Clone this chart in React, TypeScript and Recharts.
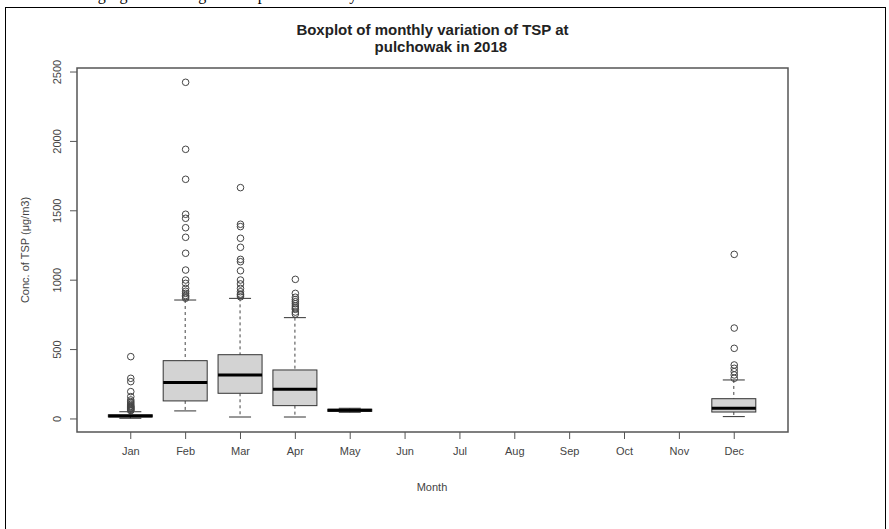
import { Bar, ComposedChart, ReferenceArea, Scatter, XAxis, YAxis } from "recharts";

const months = ["Jan", "Feb", "Mar", "Apr", "May", "Jun", "Jul", "Aug", "Sep", "Oct", "Nov", "Dec"];

// months that have data (1 = Jan)
const boxMonths = [1, 2, 3, 4, 5, 12];
const lowWhisker = [5, 58, 14, 14, 48, 17];
const lowerQuartile = [15, 130, 185, 96, 55, 50];
const medians = [22, 262, 317, 214, 62, 77];
const upperQuartile = [30, 420, 463, 353, 70, 146];
const highWhisker = [52, 857, 869, 730, 77, 281];

const janOutliers = [60, 65, 70, 75, 80, 85, 90, 95, 105, 115, 125, 137, 161, 197, 269, 293, 449];
const febOutliers = [870, 881, 890, 905, 920, 941, 977, 1001, 1073, 1194, 1309, 1378, 1446, 1475, 1727, 1943, 2426];
const marOutliers = [880, 893, 900, 917, 941, 973, 1001, 1068, 1133, 1150, 1237, 1302, 1386, 1403, 1667];
const aprOutliers = [756, 770, 790, 800, 814, 830, 845, 860, 877, 905, 1006];
const decOutliers = [293, 317, 341, 365, 389, 509, 655, 1186];
const outlierMonths = [1, 2, 3, 4, 12];
const outlierLists = [janOutliers, febOutliers, marOutliers, aprOutliers, decOutliers];

const yTicks = [0, 500, 1000, 1500, 2000, 2500];
const xTicks = months.map((_, i) => i + 1);
const yDomain: [number, number] = [-94, 2529];
const xDomain: [number, number] = [0.02, 12.98];

const boxRows = boxMonths.map((m, i) => ({
  x: m,
  lo: lowWhisker[i],
  q1: lowerQuartile[i],
  med: medians[i],
  q3: upperQuartile[i],
  hi: highWhisker[i],
}));

const outlierRows = outlierMonths.flatMap((m, i) => outlierLists[i].map((v) => ({ x: m, v })));

const FONT = "'Liberation Sans', Arial, Helvetica, sans-serif";

function BoxShape(props: any) {
  const { x, y, width, height, payload } = props;
  if (!payload) return null;
  const top = Math.min(y, y + height);
  const h = Math.abs(height);
  const span = payload.hi - payload.lo || 1;
  const py = (v: number) => top + ((payload.hi - v) / span) * h;
  const cx = x + width / 2;
  const cap = width / 4;
  return (
    <g>
      <line x1={cx} x2={cx} y1={py(payload.hi)} y2={py(payload.q3)} stroke="#444" strokeDasharray="3 3" />
      <line x1={cx} x2={cx} y1={py(payload.q1)} y2={py(payload.lo)} stroke="#444" strokeDasharray="3 3" />
      <line x1={cx - cap} x2={cx + cap} y1={py(payload.hi)} y2={py(payload.hi)} stroke="#333" />
      <line x1={cx - cap} x2={cx + cap} y1={py(payload.lo)} y2={py(payload.lo)} stroke="#333" />
      <rect
        x={x}
        y={py(payload.q3)}
        width={width}
        height={Math.max(py(payload.q1) - py(payload.q3), 0.5)}
        fill="#d3d3d3"
        stroke="#333"
      />
      <line x1={x} x2={x + width} y1={py(payload.med)} y2={py(payload.med)} stroke="#000" strokeWidth={3} />
    </g>
  );
}

function OutlierDot(props: any) {
  const { cx, cy } = props;
  return <circle cx={cx} cy={cy} r={3.3} fill="none" stroke="#444" strokeWidth={1} />;
}

function XTick(props: any) {
  const { x, y, payload } = props;
  return (
    <text x={x} y={y + 10} textAnchor="middle" fontSize={11} fill="#444" fontFamily={FONT}>
      {months[payload.value - 1]}
    </text>
  );
}

function YTick(props: any) {
  const { x, y, payload } = props;
  return (
    <text
      x={x}
      y={y}
      transform={`rotate(-90 ${x} ${y})`}
      textAnchor="middle"
      fontSize={11}
      fill="#444"
      fontFamily={FONT}
    >
      {payload.value}
    </text>
  );
}

export default function App() {
  return (
    <div style={{ position: "relative", width: 889, height: 529, overflow: "hidden", background: "#fff" }}>
      <style>{"body{margin:0}"}</style>
      {/* cut-off line of the surrounding document */}
      <div
        style={{
          position: "absolute",
          left: 40,
          top: -13,
          fontFamily: "'Liberation Serif', 'Times New Roman', serif",
          fontSize: 16,
          lineHeight: "16px",
          whiteSpace: "nowrap",
          color: "#000",
        }}
      >
        Following figure showing the boxplot of monthly variation of TSP at Pulchowak
      </div>
      <div
        style={{
          position: "absolute",
          left: 5,
          top: 7,
          width: 879,
          height: 560,
          border: "1.5px solid #000",
        }}
      />
      <div
        style={{
          position: "absolute",
          left: 0,
          width: 865,
          top: 21,
          textAlign: "center",
          fontFamily: FONT,
          fontWeight: "bold",
          fontSize: 15,
          lineHeight: "17px",
          color: "#222",
          whiteSpace: "pre",
        }}
      >
        {"Boxplot of monthly variation of TSP at\n    pulchowak in 2018"}
      </div>
      <div
        style={{
          position: "absolute",
          left: 25,
          top: 250,
          transform: "translate(-50%, -50%) rotate(-90deg)",
          fontFamily: FONT,
          fontSize: 11,
          color: "#444",
          whiteSpace: "nowrap",
        }}
      >
        Conc. of TSP (μg/m3)
      </div>
      <div
        style={{
          position: "absolute",
          left: 432,
          top: 487,
          transform: "translate(-50%, -50%)",
          fontFamily: FONT,
          fontSize: 11,
          color: "#444",
        }}
      >
        Month
      </div>
      <div style={{ position: "absolute", left: 0, top: 0 }}>
        <ComposedChart
          width={889}
          height={529}
          data={boxRows}
          margin={{ top: 68, right: 101, bottom: 37, left: 17 }}
        >
          <XAxis
            type="number"
            dataKey="x"
            domain={xDomain}
            ticks={xTicks}
            interval={0}
            allowDataOverflow
            axisLine={false}
            tickLine={{ stroke: "#555" }}
            tickSize={7}
            tickMargin={6}
            height={60}
            tick={<XTick />}
          />
          <YAxis
            type="number"
            domain={yDomain}
            ticks={yTicks}
            interval={0}
            allowDataOverflow
            axisLine={false}
            tickLine={{ stroke: "#555" }}
            tickSize={7}
            tickMargin={9}
            width={60}
            tick={<YTick />}
          />
          <Bar
            dataKey={(d: any) => [d.lo, d.hi]}
            barSize={44}
            shape={<BoxShape />}
            isAnimationActive={false}
          />
          <Scatter data={outlierRows} dataKey="v" shape={<OutlierDot />} isAnimationActive={false} />
          <ReferenceArea
            x1={xDomain[0]}
            x2={xDomain[1]}
            y1={yDomain[0]}
            y2={yDomain[1]}
            fill="none"
            stroke="#555"
            strokeWidth={1.5}
          />
        </ComposedChart>
      </div>
    </div>
  );
}
